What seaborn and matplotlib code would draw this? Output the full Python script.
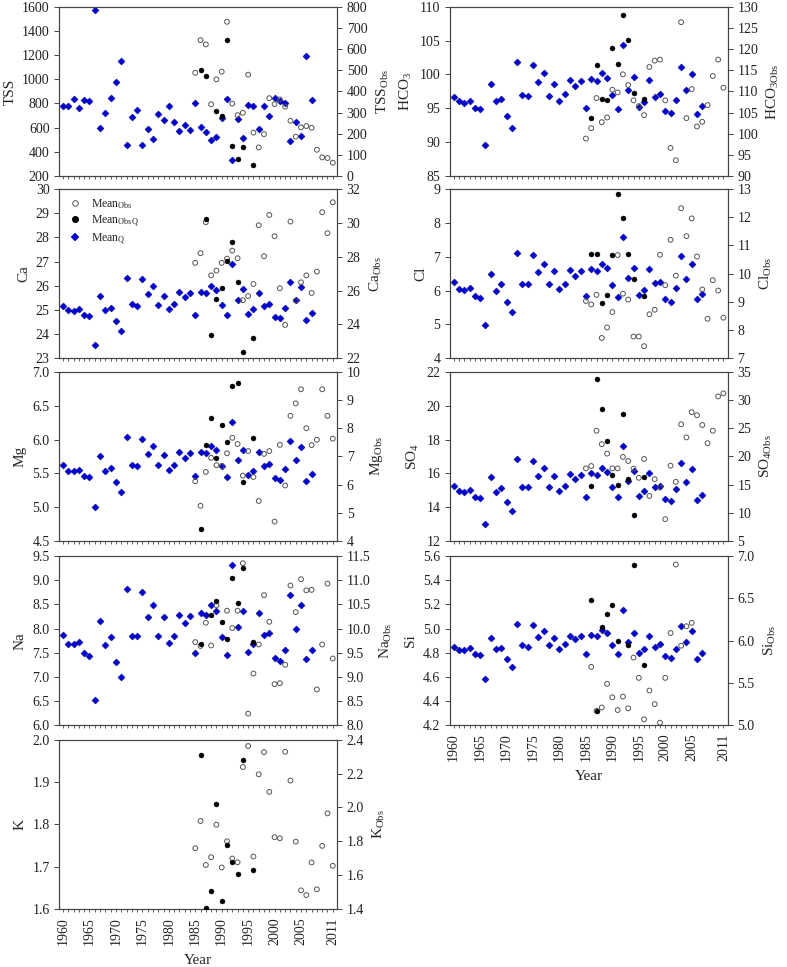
import numpy as np
import pandas as pd
import matplotlib
matplotlib.use('Agg')
import matplotlib.pyplot as plt
from matplotlib.ticker import MultipleLocator, FixedLocator, FormatStrFormatter
from matplotlib.lines import Line2D
import seaborn as sns

# ---- data ----
yr_q = list(range(1960, 2008))          # Mean_Q years
yr_obs = list(range(1985, 2012))        # Mean_Obs years

tss_q = [779, 779, 834, 759, 831, 817, 1572, 600, 721, 842, 980, 1153, 453, 685, 745,
         453, 588, 508, 715, 662, 775, 650, 572, 622, 580, 800, 602, 565, 500, 525,
         676, 840, 331, 672, 515, 790, 778, 590, 775, 700, 842, 818, 806, 486, 645,
         535, 1190, 825]
tss_obs = [488, 642, 622, 339, 457, 493, 729, 342, 288, 299, 479, 205, 135, 198,
           368, 340, 362, 328, 261, 186, 230, 236, 228, 124, 88, 85, 63]
tss_oq_yr = [1986, 1987, 1989, 1990, 1991, 1992, 1993, 1994, 1996]
tss_oq = [501, 472, 309, 285, 641, 142, 79, 135, 53]

ca_q = [25.18, 25.0, 24.96, 25.04, 24.78, 24.74, 23.54, 25.58, 25.0, 25.1, 24.54, 24.13,
        26.32, 25.23, 25.18, 26.27, 25.65, 25.97, 25.2, 25.59, 25.04, 25.25, 25.73, 25.52,
        25.69, 24.81, 25.76, 25.72, 25.99, 25.83, 25.22, 24.77, 26.89, 25.41, 25.86, 24.83,
        25.03, 25.72, 25.17, 25.25, 24.71, 24.66, 25.07, 26.16, 25.41, 25.94, 24.57, 24.86]
ca_obs = [27.64, 28.21, 30.04, 26.9, 27.18, 27.64, 27.89, 28.36, 27.91, 25.43, 25.68,
          26.39, 29.86, 28.03, 30.47, 29.21, 26.14, 23.97, 30.08, 25.41, 26.49, 26.9,
          25.86, 27.12, 30.63, 29.39, 31.22]
ca_oq_yr = [1987, 1988, 1989, 1990, 1991, 1992, 1993, 1994, 1996]
ca_oq = [30.22, 23.36, 25.49, 26.18, 27.77, 28.9, 26.53, 22.39, 23.22]

mg_q = [5.62, 5.54, 5.54, 5.55, 5.46, 5.44, 5.0, 5.76, 5.54, 5.58, 5.37, 5.22, 6.04, 5.62,
        5.61, 6.01, 5.78, 5.9, 5.62, 5.77, 5.55, 5.63, 5.81, 5.73, 5.8, 5.46, 5.82, 5.8,
        5.9, 5.84, 5.61, 5.45, 6.26, 5.69, 5.85, 5.47, 5.54, 5.82, 5.61, 5.64, 5.43, 5.4,
        5.56, 5.98, 5.69, 5.89, 5.39, 5.49]
mg_obs = [6.12, 5.25, 6.45, 6.95, 6.69, 6.66, 7.11, 7.66, 7.44, 6.32, 7.19, 6.27, 5.42,
          7.09, 7.19, 4.69, 7.41, 5.97, 8.44, 8.88, 9.38, 8.0, 7.4, 7.59, 9.38, 8.44, 7.63]
mg_oq_yr = [1986, 1987, 1988, 1989, 1990, 1991, 1992, 1993, 1994, 1996]
mg_oq = [4.42, 7.42, 8.38, 6.95, 8.1, 7.5, 9.48, 9.61, 6.1, 7.65]

na_q = [7.87, 7.69, 7.68, 7.73, 7.49, 7.44, 6.53, 8.16, 7.66, 7.82, 7.31, 6.99, 8.82, 7.84,
        7.84, 8.76, 8.23, 8.49, 7.84, 8.24, 7.71, 7.84, 8.29, 8.11, 8.26, 7.49, 8.32, 8.27,
        8.49, 8.36, 7.82, 7.46, 9.31, 8.04, 8.36, 7.52, 7.68, 8.33, 7.87, 7.91, 7.4, 7.33,
        7.55, 8.7, 8.0, 8.48, 7.38, 7.55]
na_obs_yr = [1985, 1986, 1987, 1988, 1989, 1991, 1992, 1993, 1994, 1995, 1996, 1997, 1998,
             1999, 2000, 2001, 2002, 2003, 2004, 2005, 2006, 2007, 2008, 2009, 2010, 2011]
na_obs = [9.72, 9.64, 10.12, 9.65, 10.48, 10.37, 10.01, 10.37, 11.35, 8.24, 9.07, 9.67,
          10.69, 10.14, 8.85, 8.87, 9.25, 10.89, 10.34, 11.02, 10.79, 10.8, 8.74, 9.67,
          10.93, 9.38]
na_oq_yr = [1986, 1988, 1989, 1990, 1991, 1992, 1993, 1994, 1996]
na_oq = [9.68, 10.28, 10.56, 10.14, 9.79, 11.04, 10.53, 11.26, 9.73]

k_obs = [1.759, 1.92, 1.66, 1.706, 1.898, 1.645, 1.8, 1.698, 1.676, 2.239, 2.363, 1.71,
         2.196, 2.327, 2.092, 1.824, 1.818, 2.329, 2.159, 1.798, 1.51, 1.482, 1.675, 1.516,
         1.773, 1.965, 1.655]
k_oq_yr = [1986, 1987, 1988, 1989, 1990, 1991, 1992, 1993, 1994, 1996]
k_oq = [2.312, 1.406, 1.506, 2.018, 1.445, 1.78, 1.68, 1.604, 2.278, 1.631]

hco3_q = [96.71, 96.02, 95.82, 96.12, 95.03, 94.83, 89.55, 98.54, 96.02, 96.36, 93.89,
          92.16, 101.8, 96.96, 96.81, 101.45, 98.83, 100.17, 96.86, 98.64, 96.07, 97.06,
          99.13, 98.24, 98.98, 95.08, 99.28, 99.08, 100.27, 99.53, 97.01, 94.88, 104.37,
          97.75, 99.62, 95.18, 95.97, 99.13, 96.66, 97.06, 94.63, 94.29, 96.22, 101.16,
          97.7, 100.12, 94.09, 95.38]
hco3_obs = [98.85, 101.3, 108.42, 102.73, 103.83, 110.4, 109.76, 114.03, 111.5, 107.87,
            106.52, 104.39, 115.77, 117.27, 117.51, 107.87, 96.64, 93.72, 126.36, 103.68,
            110.55, 101.7, 102.81, 106.76, 113.64, 117.51, 110.87]
hco3_oq_yr = [1986, 1987, 1988, 1989, 1990, 1991, 1992, 1993, 1994, 1996]
hco3_oq = [103.6, 116.25, 108.18, 107.87, 120.28, 116.56, 128.1, 122.1, 109.6, 108.1]

cl_q = [6.24, 6.04, 6.03, 6.08, 5.84, 5.79, 4.98, 6.48, 5.99, 6.19, 5.67, 5.38, 7.12, 6.18,
        6.18, 7.05, 6.54, 6.8, 6.19, 6.58, 6.05, 6.18, 6.61, 6.43, 6.57, 5.85, 6.64, 6.58,
        6.79, 6.67, 6.16, 5.81, 7.59, 6.37, 6.67, 5.87, 6.03, 6.65, 6.22, 6.26, 5.75, 5.67,
        6.08, 7.01, 6.34, 6.8, 5.76, 5.91]
cl_obs = [9.03, 8.91, 9.25, 7.72, 8.09, 8.64, 10.66, 9.29, 9.08, 7.77, 7.77, 7.43, 8.56,
          8.72, 10.67, 9.59, 11.2, 9.93, 12.32, 11.33, 11.96, 10.61, 9.44, 8.4, 9.77, 9.4,
          8.44]
cl_oq_yr = [1986, 1987, 1988, 1989, 1990, 1991, 1992, 1993, 1994, 1996]
cl_oq = [10.71, 10.71, 8.97, 9.24, 10.66, 12.82, 11.97, 10.68, 9.8, 9.21]

so4_q = [15.26, 14.94, 14.92, 15.0, 14.62, 14.56, 13.01, 15.76, 14.92, 15.16, 14.33, 13.77,
         16.83, 15.22, 15.22, 16.73, 15.86, 16.29, 15.22, 15.86, 14.96, 15.24, 15.94, 15.68,
         15.92, 14.62, 16.0, 15.92, 16.31, 16.08, 15.22, 14.6, 17.63, 15.56, 16.12, 14.68,
         14.96, 16.0, 15.22, 15.28, 14.47, 14.37, 15.06, 16.61, 15.48, 16.27, 14.43, 14.74]
so4_obs = [17.88, 18.3, 24.56, 22.17, 20.5, 17.88, 17.88, 19.91, 19.19, 17.82, 16.21,
           19.55, 12.99, 15.97, 14.48, 8.88, 18.36, 15.49, 25.69, 23.37, 27.84, 27.3, 25.57,
           22.35, 24.56, 30.64, 31.18]
so4_oq_yr = [1986, 1987, 1988, 1989, 1990, 1991, 1992, 1993, 1994, 1996]
so4_oq = [14.84, 33.68, 28.37, 22.71, 16.63, 15.02, 27.6, 16.03, 9.53, 16.39]

si_q = [4.85, 4.82, 4.82, 4.84, 4.79, 4.78, 4.58, 4.92, 4.83, 4.84, 4.75, 4.68, 5.04, 4.86,
        4.85, 5.03, 4.93, 4.98, 4.86, 4.92, 4.83, 4.87, 4.94, 4.91, 4.94, 4.79, 4.95, 4.94,
        4.99, 4.96, 4.86, 4.79, 5.15, 4.89, 4.96, 4.8, 4.83, 4.94, 4.85, 4.87, 4.77, 4.76,
        4.83, 5.02, 4.89, 4.98, 4.75, 4.8]
si_obs_yr = list(range(1986, 2006))
si_obs = [5.69, 5.17, 5.21, 5.49, 5.33, 5.18, 5.34, 5.2, 5.8, 5.56, 5.07, 5.41, 5.25, 5.03,
          5.56, 6.09, 6.9, 5.94, 6.17, 6.21]
si_oq_yr = [1986, 1987, 1988, 1989, 1990, 1991, 1993, 1994, 1996]
si_oq = [6.48, 5.17, 6.16, 6.32, 6.42, 6.0, 5.95, 6.89, 5.71]

# ---- style ----
sns.set_style('ticks')
plt.rcParams['font.family'] = ['Liberation Serif', 'DejaVu Serif']
plt.rcParams['mathtext.fontset'] = 'custom'
plt.rcParams['mathtext.rm'] = 'Liberation Serif'
plt.rcParams['mathtext.it'] = 'Liberation Serif:italic'
plt.rcParams['mathtext.default'] = 'rm'
plt.rcParams['axes.edgecolor'] = '#444444'
plt.rcParams['axes.linewidth'] = 0.8

fig = plt.figure(figsize=(7.87, 9.67), dpi=100)

colx = [0.0754, 0.5718]
w = 0.3528
rows = [0.818, 0.6295, 0.4405, 0.250, 0.060]
h = 0.1750

blue = '#0000d8'


def panel(col, row, lab, lab2, q, obs, oq_yr, oq, lim, step, lim2, step2, fmt, fmt2,
          obs_yr=None, bottom=False):
    ax = fig.add_axes([colx[col], rows[row], w, h])
    ax2 = ax.twinx()
    if q is not None:
        sns.scatterplot(x=yr_q, y=q, ax=ax, marker='D', s=13, color=blue,
                        edgecolor='#00006a', linewidth=0.3, zorder=3)
    if obs_yr is None:
        obs_yr = yr_obs
    sns.scatterplot(x=obs_yr, y=obs, ax=ax2, marker='o', s=12, facecolor='none',
                    edgecolor='#555555', linewidth=0.7, zorder=3)
    sns.scatterplot(x=oq_yr, y=oq, ax=ax2, marker='o', s=13, color='black',
                    edgecolor='black', linewidth=0.3, zorder=4)
    ax.set_xlim(1959.3, 2011.8)
    ax.set_ylim(*lim)
    ax2.set_ylim(*lim2)
    ax.yaxis.set_major_locator(MultipleLocator(step))
    ax2.yaxis.set_major_locator(MultipleLocator(step2))
    ax.yaxis.set_major_formatter(FormatStrFormatter(fmt))
    ax2.yaxis.set_major_formatter(FormatStrFormatter(fmt2))
    ax.xaxis.set_major_locator(FixedLocator([1960, 1965, 1970, 1975, 1980, 1985, 1990,
                                             1995, 2000, 2005, 2011]))
    ax.xaxis.set_minor_locator(MultipleLocator(1))
    ax.set_ylabel(lab, fontsize=11, labelpad=4)
    ax2.set_ylabel(lab2, fontsize=11, labelpad=5)
    for a in (ax, ax2):
        a.tick_params(axis='y', labelsize=10, length=3.5, width=0.7, colors='#444444',
                      labelcolor='#222222')
    ax.tick_params(axis='x', which='both', direction='out', length=2.5, width=0.6,
                   colors='#444444', labelcolor='#222222', labelsize=10,
                   labelbottom=bottom, labelrotation=90)
    if bottom:
        ax.set_xlabel('Year', fontsize=11, labelpad=6)
    for sp in ax2.spines.values():
        sp.set_color('#444444')
    return ax, ax2


panel(0, 0, 'TSS', 'TSS$_{Obs}$', tss_q, tss_obs, tss_oq_yr, tss_oq,
      (200, 1600), 200, (0, 800), 100, '%d', '%d')
axca, axca2 = panel(0, 1, 'Ca', 'Ca$_{Obs}$', ca_q, ca_obs, ca_oq_yr, ca_oq,
                    (23, 30), 1, (22, 32), 2, '%d', '%d')
panel(0, 2, 'Mg', 'Mg$_{Obs}$', mg_q, mg_obs, mg_oq_yr, mg_oq,
      (4.5, 7.0), 0.5, (4, 10), 1, '%.1f', '%d')
panel(0, 3, 'Na', 'Na$_{Obs}$', na_q, na_obs, na_oq_yr, na_oq,
      (6.0, 9.5), 0.5, (8.0, 11.5), 0.5, '%.1f', '%.1f', obs_yr=na_obs_yr)
panel(0, 4, 'K', 'K$_{Obs}$', None, k_obs, k_oq_yr, k_oq,
      (1.6, 2.0), 0.1, (1.4, 2.4), 0.2, '%.1f', '%.1f', bottom=True)

panel(1, 0, 'HCO$_3$', 'HCO$_{3Obs}$', hco3_q, hco3_obs, hco3_oq_yr, hco3_oq,
      (85, 110), 5, (90, 130), 5, '%d', '%d')
panel(1, 1, 'Cl', 'Cl$_{Obs}$', cl_q, cl_obs, cl_oq_yr, cl_oq,
      (4, 9), 1, (7, 13), 1, '%d', '%d')
panel(1, 2, 'SO$_4$', 'SO$_{4Obs}$', so4_q, so4_obs, so4_oq_yr, so4_oq,
      (12, 22), 2, (5, 35), 5, '%d', '%d')
panel(1, 3, 'Si', 'Si$_{Obs}$', si_q, si_obs, si_oq_yr, si_oq,
      (4.2, 5.6), 0.2, (5.0, 7.0), 0.5, '%.1f', '%.1f', obs_yr=si_obs_yr, bottom=True)

handles = [
    Line2D([], [], ls='none', marker='o', ms=4, mfc='none', mec='#555555', mew=0.7),
    Line2D([], [], ls='none', marker='o', ms=4, mfc='black', mec='black'),
    Line2D([], [], ls='none', marker='D', ms=3.6, mfc=blue, mec='#00006a', mew=0.3),
]
axca2.legend(handles, ['Mean$_{Obs}$', 'Mean$_{ObsQ}$', 'Mean$_{Q}$'], loc='upper left',
             frameon=False, fontsize=8.5, handlelength=1.2, handletextpad=0.8,
             labelspacing=0.2, borderaxespad=0.3, bbox_to_anchor=(0.0, 1.0))

fig.savefig('out.png', dpi=100)
